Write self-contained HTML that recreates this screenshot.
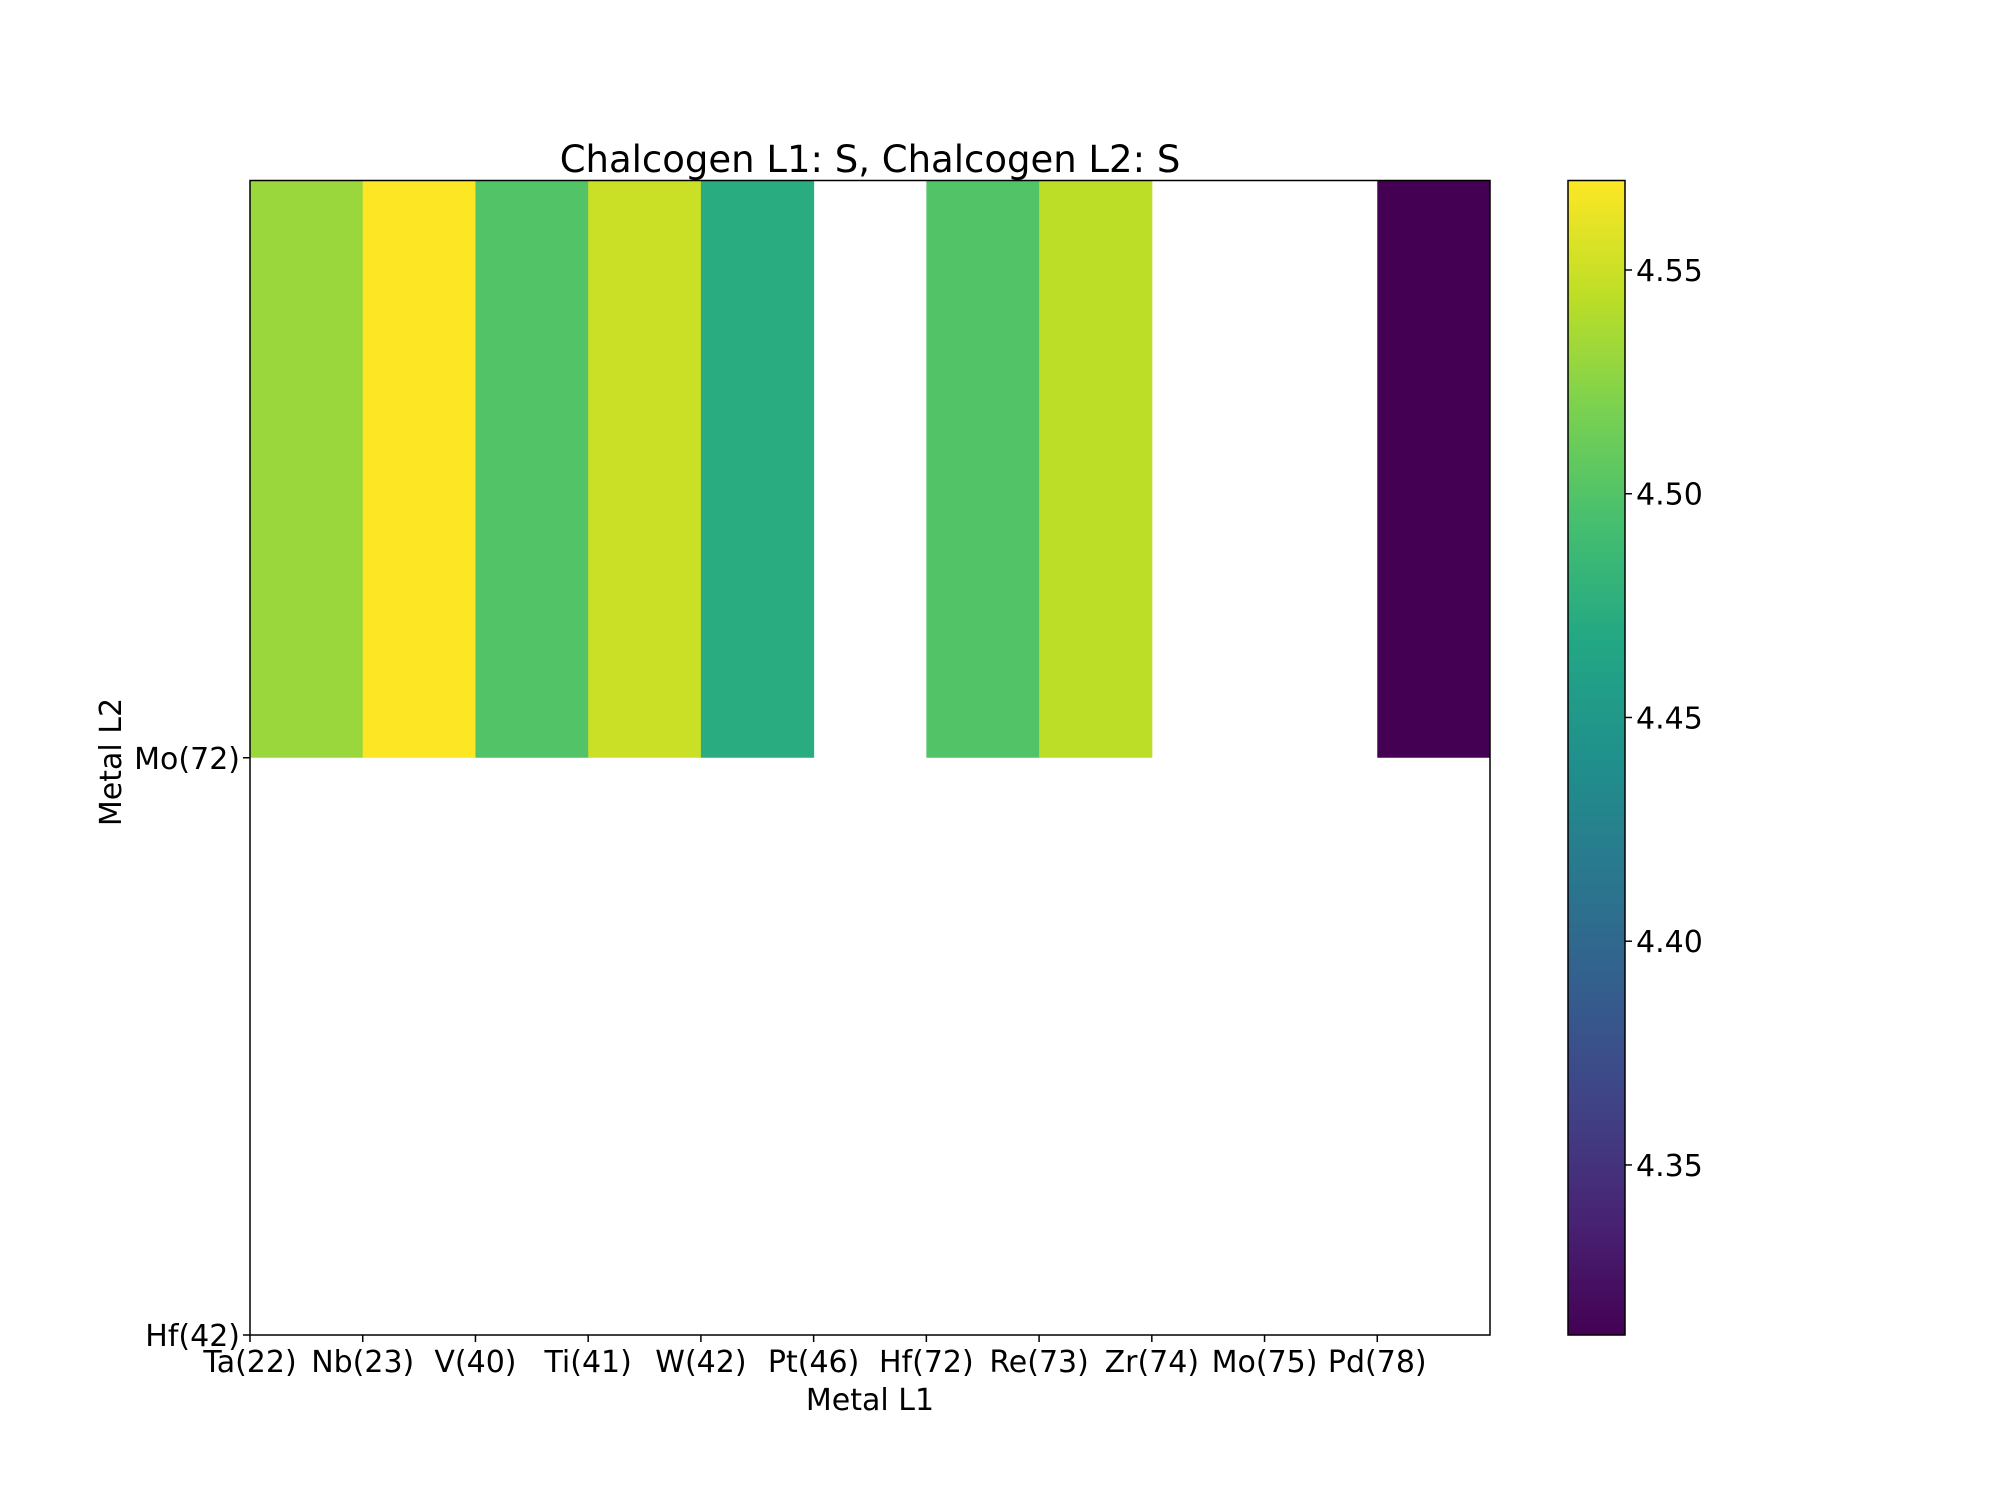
<!DOCTYPE html>
<html><head><meta charset="utf-8"><style>
html,body{margin:0;padding:0;background:#fff;}
svg{display:block;font-family:"DejaVu Sans","Liberation Sans",sans-serif;}
</style></head><body>
<svg id="chart" width="2000" height="1500" xmlns="http://www.w3.org/2000/svg">
<defs>
<linearGradient id="vir" x1="0" y1="1" x2="0" y2="0"></linearGradient>
</defs>
<g id="cells"></g>
<rect x="250" y="180.5" width="1240" height="1154.5" fill="none" stroke="#000" stroke-width="1.5"/>
<g id="xticks"></g>
<g id="yticks"></g>
<text x="870" y="172" font-size="37" text-anchor="middle">Chalcogen L1: S, Chalcogen L2: S</text>
<text x="870" y="1410" font-size="30" text-anchor="middle">Metal L1</text>
<text x="0" y="0" font-size="30" text-anchor="middle" transform="translate(121,762) rotate(-90)">Metal L2</text>
<rect x="1568" y="180.5" width="57" height="1154.5" fill="url(#vir)" stroke="#000" stroke-width="1.5"/>
<g id="cticks"></g>
</svg>
<script>
const xCategories = ["Ta(22)","Nb(23)","V(40)","Ti(41)","W(42)","Pt(46)","Hf(72)","Re(73)","Zr(74)","Mo(75)","Pd(78)"];
const yCategories = ["Hf(42)","Mo(72)"];
const rowMo72 = [4.531,4.570,4.500,4.549,4.472,null,4.500,4.544,null,null,4.312];
const rowHf42 = [null,null,null,null,null,null,null,null,null,null,null];
const colorTicks = [4.35,4.40,4.45,4.50,4.55];
const vmin = 4.312, vmax = 4.570;

const NS = "http://www.w3.org/2000/svg";
const X0 = 250, X1 = 1490, YT = 180.5, YB = 1335;
const CB0 = 1568, CB1 = 1625;
const VIR = [[68,1,84],[72,35,116],[64,67,135],[52,94,141],[41,120,142],[32,144,140],[34,167,132],[68,190,112],[121,209,81],[189,222,38],[253,231,37]];
function viridis(t){t=Math.max(0,Math.min(1,t));const p=t*(VIR.length-1);const i=Math.min(VIR.length-2,Math.floor(p));const f=p-i;
  const c=VIR[i].map((v,k)=>Math.round(v+(VIR[i+1][k]-v)*f));return `rgb(${c[0]},${c[1]},${c[2]})`;}
const colW = (X1-X0)/xCategories.length;
const rowH = (YB-YT)/yCategories.length;
function xScale(i){return X0+i*colW;}
function yScale(j){return YB-j*rowH;}
function cScale(v){return YB-(v-vmin)/(vmax-vmin)*(YB-YT);}
function el(tag,attrs,parent){const e=document.createElementNS(NS,tag);for(const k in attrs)e.setAttribute(k,attrs[k]);parent.appendChild(e);return e;}

const grad=document.getElementById('vir');
VIR.forEach((c,i)=>{el('stop',{offset:(i/(VIR.length-1)),'stop-color':`rgb(${c[0]},${c[1]},${c[2]})`},grad);});

const cells=document.getElementById('cells');
const rows=[rowHf42,rowMo72];
rows.forEach((row,j)=>{row.forEach((v,i)=>{if(v===null)return;
  const r=el('rect',{x:xScale(i),y:yScale(j+1),width:colW+0.5,height:rowH,fill:viridis((v-vmin)/(vmax-vmin))},cells);
  
  
});});

const xt=document.getElementById('xticks');
xCategories.forEach((c,i)=>{const x=xScale(i);
  const l=el('line',{x1:x,x2:x,y1:YB,y2:YB+7,stroke:'#000','stroke-width':1.5},xt);
  
  
  const t=el('text',{x:x,y:YB+37,'font-size':30,'text-anchor':'middle'},xt);t.textContent=c;
  
  
});
const yt=document.getElementById('yticks');
yCategories.forEach((c,j)=>{const y=yScale(j);
  const l=el('line',{x1:X0-7,x2:X0,y1:y,y2:y,stroke:'#000','stroke-width':1.5},yt);
  
  
  const t=el('text',{x:X0-10,y:y+11,'font-size':30,'text-anchor':'end'},yt);t.textContent=c;
  
  
});
const ct=document.getElementById('cticks');
colorTicks.forEach(v=>{const y=cScale(v);
  const l=el('line',{x1:CB1,x2:CB1+7,y1:y,y2:y,stroke:'#000','stroke-width':1.5},ct);
  
  
  const t=el('text',{x:CB1+11,y:y+11,'font-size':30},ct);t.textContent=v.toFixed(2);
  
  
});
</script>
</body></html>
